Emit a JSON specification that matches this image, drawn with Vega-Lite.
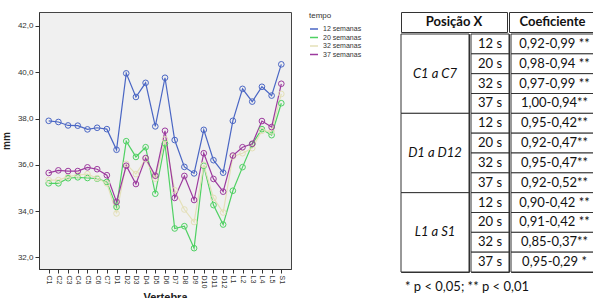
{
  "$schema": "https://vega.github.io/schema/vega-lite/v6.json",
  "padding": {"left": 0, "top": 11, "right": 0, "bottom": 0},
  "spacing": 37,
  "resolve": {"legend": {"color": "independent"}, "scale": {"color": "independent"}},
  "config": {"font": "Liberation Sans", "view": {"stroke": "#444"}},
  "datasets": {
    "medidas": [
      {"vertebra": "C1", "tempo": "12 semanas", "mm": 37.9},
      {"vertebra": "C2", "tempo": "12 semanas", "mm": 37.85},
      {"vertebra": "C3", "tempo": "12 semanas", "mm": 37.7},
      {"vertebra": "C4", "tempo": "12 semanas", "mm": 37.69},
      {"vertebra": "C5", "tempo": "12 semanas", "mm": 37.53},
      {"vertebra": "C6", "tempo": "12 semanas", "mm": 37.6},
      {"vertebra": "C7", "tempo": "12 semanas", "mm": 37.54},
      {"vertebra": "D1", "tempo": "12 semanas", "mm": 36.65},
      {"vertebra": "D2", "tempo": "12 semanas", "mm": 39.95},
      {"vertebra": "D3", "tempo": "12 semanas", "mm": 38.93},
      {"vertebra": "D4", "tempo": "12 semanas", "mm": 39.54},
      {"vertebra": "D5", "tempo": "12 semanas", "mm": 37.66},
      {"vertebra": "D6", "tempo": "12 semanas", "mm": 39.76},
      {"vertebra": "D7", "tempo": "12 semanas", "mm": 37.07},
      {"vertebra": "D8", "tempo": "12 semanas", "mm": 35.91},
      {"vertebra": "D9", "tempo": "12 semanas", "mm": 35.63},
      {"vertebra": "D10", "tempo": "12 semanas", "mm": 37.51},
      {"vertebra": "D11", "tempo": "12 semanas", "mm": 36.2},
      {"vertebra": "D12", "tempo": "12 semanas", "mm": 35.66},
      {"vertebra": "L1", "tempo": "12 semanas", "mm": 37.9},
      {"vertebra": "L2", "tempo": "12 semanas", "mm": 39.28},
      {"vertebra": "L3", "tempo": "12 semanas", "mm": 38.73},
      {"vertebra": "L4", "tempo": "12 semanas", "mm": 39.37},
      {"vertebra": "L5", "tempo": "12 semanas", "mm": 38.99},
      {"vertebra": "S1", "tempo": "12 semanas", "mm": 40.34},
      {"vertebra": "C1", "tempo": "20 semanas", "mm": 35.2},
      {"vertebra": "C2", "tempo": "20 semanas", "mm": 35.2},
      {"vertebra": "C3", "tempo": "20 semanas", "mm": 35.42},
      {"vertebra": "C4", "tempo": "20 semanas", "mm": 35.46},
      {"vertebra": "C5", "tempo": "20 semanas", "mm": 35.43},
      {"vertebra": "C6", "tempo": "20 semanas", "mm": 35.4},
      {"vertebra": "C7", "tempo": "20 semanas", "mm": 35.26},
      {"vertebra": "D1", "tempo": "20 semanas", "mm": 34.18},
      {"vertebra": "D2", "tempo": "20 semanas", "mm": 37.02},
      {"vertebra": "D3", "tempo": "20 semanas", "mm": 36.34},
      {"vertebra": "D4", "tempo": "20 semanas", "mm": 36.76},
      {"vertebra": "D5", "tempo": "20 semanas", "mm": 34.75},
      {"vertebra": "D6", "tempo": "20 semanas", "mm": 36.92},
      {"vertebra": "D7", "tempo": "20 semanas", "mm": 33.25},
      {"vertebra": "D8", "tempo": "20 semanas", "mm": 33.35},
      {"vertebra": "D9", "tempo": "20 semanas", "mm": 32.4},
      {"vertebra": "D10", "tempo": "20 semanas", "mm": 35.96},
      {"vertebra": "D11", "tempo": "20 semanas", "mm": 34.26},
      {"vertebra": "D12", "tempo": "20 semanas", "mm": 33.42},
      {"vertebra": "L1", "tempo": "20 semanas", "mm": 34.88},
      {"vertebra": "L2", "tempo": "20 semanas", "mm": 35.9},
      {"vertebra": "L3", "tempo": "20 semanas", "mm": 36.89},
      {"vertebra": "L4", "tempo": "20 semanas", "mm": 37.54},
      {"vertebra": "L5", "tempo": "20 semanas", "mm": 37.28},
      {"vertebra": "S1", "tempo": "20 semanas", "mm": 38.66},
      {"vertebra": "C1", "tempo": "32 semanas", "mm": 35.34},
      {"vertebra": "C2", "tempo": "32 semanas", "mm": 35.34},
      {"vertebra": "C3", "tempo": "32 semanas", "mm": 35.49},
      {"vertebra": "C4", "tempo": "32 semanas", "mm": 35.56},
      {"vertebra": "C5", "tempo": "32 semanas", "mm": 35.6},
      {"vertebra": "C6", "tempo": "32 semanas", "mm": 35.42},
      {"vertebra": "C7", "tempo": "32 semanas", "mm": 35.2},
      {"vertebra": "D1", "tempo": "32 semanas", "mm": 33.9},
      {"vertebra": "D2", "tempo": "32 semanas", "mm": 36.04},
      {"vertebra": "D3", "tempo": "32 semanas", "mm": 35.6},
      {"vertebra": "D4", "tempo": "32 semanas", "mm": 36.24},
      {"vertebra": "D5", "tempo": "32 semanas", "mm": 35.4},
      {"vertebra": "D6", "tempo": "32 semanas", "mm": 37.1},
      {"vertebra": "D7", "tempo": "32 semanas", "mm": 34.9},
      {"vertebra": "D8", "tempo": "32 semanas", "mm": 34.07},
      {"vertebra": "D9", "tempo": "32 semanas", "mm": 33.53},
      {"vertebra": "D10", "tempo": "32 semanas", "mm": 36.0},
      {"vertebra": "D11", "tempo": "32 semanas", "mm": 34.57},
      {"vertebra": "D12", "tempo": "32 semanas", "mm": 33.94},
      {"vertebra": "L1", "tempo": "32 semanas", "mm": 36.36},
      {"vertebra": "L2", "tempo": "32 semanas", "mm": 36.5},
      {"vertebra": "L3", "tempo": "32 semanas", "mm": 36.72},
      {"vertebra": "L4", "tempo": "32 semanas", "mm": 37.47},
      {"vertebra": "L5", "tempo": "32 semanas", "mm": 37.44},
      {"vertebra": "S1", "tempo": "32 semanas", "mm": 39.06},
      {"vertebra": "C1", "tempo": "37 semanas", "mm": 35.65},
      {"vertebra": "C2", "tempo": "37 semanas", "mm": 35.76},
      {"vertebra": "C3", "tempo": "37 semanas", "mm": 35.73},
      {"vertebra": "C4", "tempo": "37 semanas", "mm": 35.73},
      {"vertebra": "C5", "tempo": "37 semanas", "mm": 35.89},
      {"vertebra": "C6", "tempo": "37 semanas", "mm": 35.81},
      {"vertebra": "C7", "tempo": "37 semanas", "mm": 35.55},
      {"vertebra": "D1", "tempo": "37 semanas", "mm": 34.4},
      {"vertebra": "D2", "tempo": "37 semanas", "mm": 35.96},
      {"vertebra": "D3", "tempo": "37 semanas", "mm": 35.17},
      {"vertebra": "D4", "tempo": "37 semanas", "mm": 36.29},
      {"vertebra": "D5", "tempo": "37 semanas", "mm": 35.53},
      {"vertebra": "D6", "tempo": "37 semanas", "mm": 37.47},
      {"vertebra": "D7", "tempo": "37 semanas", "mm": 34.57},
      {"vertebra": "D8", "tempo": "37 semanas", "mm": 35.52},
      {"vertebra": "D9", "tempo": "37 semanas", "mm": 34.48},
      {"vertebra": "D10", "tempo": "37 semanas", "mm": 36.5},
      {"vertebra": "D11", "tempo": "37 semanas", "mm": 35.39},
      {"vertebra": "D12", "tempo": "37 semanas", "mm": 34.84},
      {"vertebra": "L1", "tempo": "37 semanas", "mm": 36.4},
      {"vertebra": "L2", "tempo": "37 semanas", "mm": 36.76},
      {"vertebra": "L3", "tempo": "37 semanas", "mm": 36.91},
      {"vertebra": "L4", "tempo": "37 semanas", "mm": 37.89},
      {"vertebra": "L5", "tempo": "37 semanas", "mm": 37.63},
      {"vertebra": "S1", "tempo": "37 semanas", "mm": 39.5}
    ],
    "tabela": [
      {"grupo": "C1 a C7", "tempo": "12 s", "coef": "0,92-0,99 **"},
      {"grupo": "C1 a C7", "tempo": "20 s", "coef": "0,98-0,94 **"},
      {"grupo": "C1 a C7", "tempo": "32 s", "coef": "0,97-0,99 **"},
      {"grupo": "C1 a C7", "tempo": "37 s", "coef": "1,00-0,94**"},
      {"grupo": "D1 a D12", "tempo": "12 s", "coef": "0,95-0,42**"},
      {"grupo": "D1 a D12", "tempo": "20 s", "coef": "0,92-0,47**"},
      {"grupo": "D1 a D12", "tempo": "32 s", "coef": "0,95-0,47**"},
      {"grupo": "D1 a D12", "tempo": "37 s", "coef": "0,92-0,52**"},
      {"grupo": "L1 a S1", "tempo": "12 s", "coef": "0,90-0,42 **"},
      {"grupo": "L1 a S1", "tempo": "20 s", "coef": "0,91-0,42 **"},
      {"grupo": "L1 a S1", "tempo": "32 s", "coef": "0,85-0,37**"},
      {"grupo": "L1 a S1", "tempo": "37 s", "coef": "0,95-0,29 *"}
    ]
  },
  "hconcat": [
    {
      "width": 252,
      "height": 257,
      "data": {"name": "medidas"},
      "view": {"fill": "#f0f0f0", "stroke": "#444"},
      "encoding": {
        "x": {
          "field": "vertebra", "type": "ordinal",
          "sort": ["C1","C2","C3","C4","C5","C6","C7","D1","D2","D3","D4","D5","D6","D7","D8","D9","D10","D11","D12","L1","L2","L3","L4","L5","S1"],
          "scale": {"type": "point", "padding": 1.87},
          "axis": {"title": "Vertebra", "labelAngle": 90, "labelFontSize": 7, "labelColor": "#333", "tickSize": 4, "tickColor": "#333", "domainColor": "#333", "labelPadding": 2, "titleFontSize": 11, "titleFontWeight": "bold", "titleColor": "#222", "titlePadding": 4}
        },
        "y": {
          "field": "mm", "type": "quantitative",
          "scale": {"domain": [31.5, 42.6], "nice": false, "zero": false},
          "axis": {"title": "mm", "values": [32, 34, 36, 38, 40, 42], "labelExpr": "replace(format(datum.value, '.1f'), '.', ',')", "grid": false, "labelFontSize": 8, "labelColor": "#333", "tickSize": 4, "tickColor": "#333", "domainColor": "#333", "labelPadding": 2, "titleFontSize": 10, "titleFontWeight": "bold", "titleColor": "#222", "titlePadding": 6}
        },
        "color": {
          "field": "tempo", "type": "nominal",
          "scale": {"domain": ["12 semanas", "20 semanas", "32 semanas", "37 semanas"], "range": ["#4a66c4", "#4fd163", "#e4e0b8", "#9c3a9e"]},
          "legend": {"title": "tempo", "orient": "right", "offset": 18, "symbolType": "stroke", "symbolStrokeWidth": 1.5, "symbolSize": 64, "labelFontSize": 7, "labelColor": "#333", "titleFontSize": 8, "titleFontWeight": "normal", "titleColor": "#333", "rowPadding": 0.5, "titlePadding": 4}
        }
      },
      "layer": [
        {"mark": {"type": "line", "strokeWidth": 1.2}},
        {"mark": {"type": "point", "filled": false, "size": 32, "strokeWidth": 1, "opacity": 1}, "encoding": {"color": {"field": "tempo", "type": "nominal", "legend": null}}}
      ]
    },
    {
      "spacing": 0,
      "vconcat": [
        {
          "spacing": 0,
          "hconcat": [
            {
              "width": 106, "height": 20,
              "view": {"stroke": "#333", "fill": "white"},
              "data": {"values": [{"rotulo": "Posição X"}]},
              "mark": {"type": "text", "font": "Lato", "fontSize": 13, "fontWeight": "bold", "color": "#111"},
              "encoding": {"text": {"field": "rotulo"}}
            },
            {
              "width": 87, "height": 20,
              "view": {"stroke": "#333", "fill": "white"},
              "data": {"values": [{"rotulo": "Coeficiente"}]},
              "mark": {"type": "text", "font": "Lato", "fontSize": 13, "fontWeight": "bold", "color": "#111"},
              "encoding": {"text": {"field": "rotulo"}}
            }
          ]
        },
        {
          "spacing": 0,
          "hconcat": [
            {
              "width": 68, "height": 238,
              "view": {"stroke": "#333", "fill": "white"},
              "data": {"name": "tabela"},
              "transform": [{"aggregate": [{"op": "count", "as": "linhas"}], "groupby": ["grupo"]}],
              "encoding": {
                "y": {"field": "grupo", "type": "nominal", "sort": null, "scale": {"paddingInner": 0, "paddingOuter": 0}, "axis": null}
              },
              "layer": [
                {"mark": {"type": "rect", "fill": "white", "stroke": "#333", "strokeWidth": 1}},
                {"mark": {"type": "text", "font": "Lato", "fontSize": 13, "fontStyle": "italic", "color": "#111"}, "encoding": {"text": {"field": "grupo"}}}
              ]
            },
            {
              "width": 38, "height": 238,
              "view": {"stroke": "#333", "fill": "white"},
              "data": {"name": "tabela"},
              "encoding": {
                "y": {"field": "grupo", "type": "nominal", "sort": null, "scale": {"paddingInner": 0, "paddingOuter": 0}, "axis": null},
                "yOffset": {"field": "tempo", "type": "nominal", "sort": null, "scale": {"paddingInner": 0, "paddingOuter": 0}}
              },
              "layer": [
                {"mark": {"type": "rect", "fill": "white", "stroke": "#333", "strokeWidth": 1}},
                {"mark": {"type": "text", "font": "Lato", "fontSize": 13, "color": "#111"}, "encoding": {"text": {"field": "tempo"}}}
              ]
            },
            {
              "width": 87, "height": 238,
              "view": {"stroke": "#333", "fill": "white"},
              "data": {"name": "tabela"},
              "encoding": {
                "y": {"field": "grupo", "type": "nominal", "sort": null, "scale": {"paddingInner": 0, "paddingOuter": 0}, "axis": null},
                "yOffset": {"field": "tempo", "type": "nominal", "sort": null, "scale": {"paddingInner": 0, "paddingOuter": 0}}
              },
              "layer": [
                {"mark": {"type": "rect", "fill": "white", "stroke": "#333", "strokeWidth": 1}},
                {"mark": {"type": "text", "font": "Lato", "fontSize": 13, "color": "#111"}, "encoding": {"text": {"field": "coef"}}}
              ]
            }
          ]
        },
        {
          "width": 132, "height": 28,
          "view": {"stroke": null},
          "data": {"values": [{"nota": "* p < 0,05;  ** p < 0,01"}]},
          "mark": {"type": "text", "font": "Lato", "fontSize": 13, "color": "#111"},
          "encoding": {"text": {"field": "nota"}}
        }
      ]
    }
  ]
}
